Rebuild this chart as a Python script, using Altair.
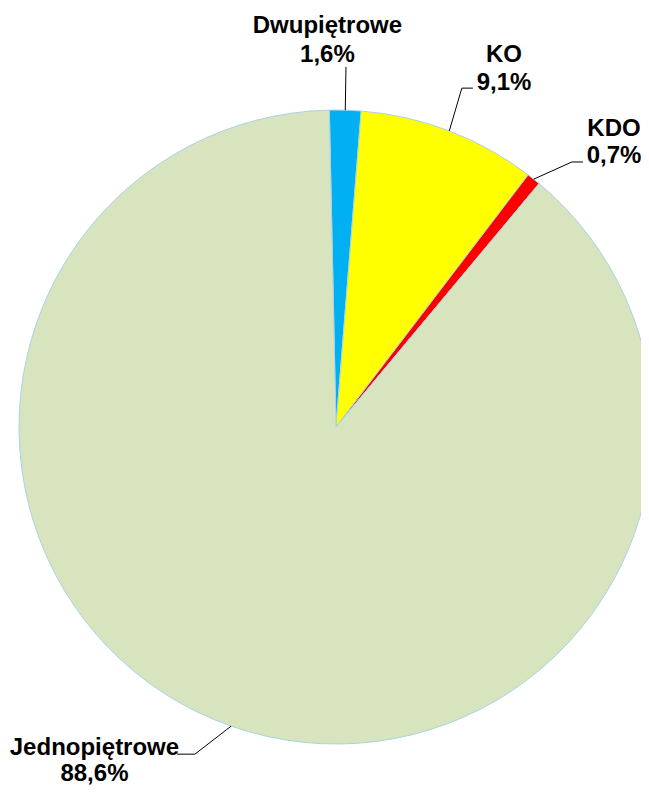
import math
import altair as alt
import pandas as pd

# ---- data ----
categories = ["Dwupiętrowe", "KO", "KDO", "Jednopiętrowe"]
values = [1.6, 9.1, 0.7, 88.6]
pct_labels = ["1,6%", "9,1%", "0,7%", "88,6%"]
colors = ["#00B0F0", "#FFFF00", "#FF0000", "#D7E4BD"]

# ---- layout (pie radius = 1 unit) ----
W, H = 633, 778
CX, CY, R = 328, 419, 317
START = -0.021  # radians, clockwise from 12 o'clock
label_x = [-0.027, 0.530, 0.877, -0.762]
name_y = [1.242, 1.151, 0.918, -1.035]
pct_y = [1.151, 1.063, 0.833, -1.117]
elbow = [(0.0315, 1.136), (0.397, 1.069), (0.744, 0.836), (-0.445, -1.032)]
end = [(0.0315, 1.136), (0.432, 1.069), (0.779, 0.836), (-0.502, -1.032)]

total = sum(values)
pie_df = pd.DataFrame({"cat": categories, "value": values, "ord": list(range(len(values)))})

rows = []
cum = 0.0
for i, (c, v) in enumerate(zip(categories, values)):
    mid = START + 2 * math.pi * (cum + v / 2) / total
    cum += v
    pts = [(math.sin(mid), math.cos(mid)), elbow[i], end[i]]
    for k, (px, py) in enumerate(pts):
        rows.append({"cat": c, "seq": k, "lx": px, "ly": py})
line_df = pd.DataFrame(rows)

text_df = pd.DataFrame({
    "cat": categories, "pct": pct_labels, "tx": label_x, "ny": name_y, "py": pct_y,
})

xs = alt.Scale(domain=[-CX / R, (W - CX) / R], nice=False, zero=False)
ys = alt.Scale(domain=[-(H - CY) / R, CY / R], nice=False, zero=False)

pie = alt.Chart(pie_df).mark_arc(stroke="#A9D3E6", strokeWidth=1).encode(
    theta=alt.Theta("value:Q", stack=True,
                    scale=alt.Scale(range=[START, START + 2 * math.pi])),
    order=alt.Order("ord:Q"),
    color=alt.Color("cat:N", scale=alt.Scale(domain=categories, range=colors), legend=None),
    x=alt.value(CX), y=alt.value(CY), radius=alt.value(R),
)

lines = alt.Chart(line_df).mark_line(color="black", strokeWidth=1).encode(
    x=alt.X("lx:Q", scale=xs, axis=None),
    y=alt.Y("ly:Q", scale=ys, axis=None),
    detail="cat:N",
    order="seq:Q",
)

font = dict(font="Liberation Sans", fontWeight="bold", fontSize=24, color="black",
            align="center", baseline="alphabetic")

names = alt.Chart(text_df).mark_text(**font).encode(
    x=alt.X("tx:Q", scale=xs, axis=None),
    y=alt.Y("ny:Q", scale=ys, axis=None),
    text="cat:N",
)
pcts = alt.Chart(text_df).mark_text(**font).encode(
    x=alt.X("tx:Q", scale=xs, axis=None),
    y=alt.Y("py:Q", scale=ys, axis=None),
    text="pct:N",
)

chart = alt.layer(pie, lines, names, pcts).properties(
    width=W, height=H, padding=0, autosize=alt.AutoSizeParams(type="none"),
).configure_view(stroke=None)

chart.save("out.html", embed_options={"renderer": "svg", "actions": False})
